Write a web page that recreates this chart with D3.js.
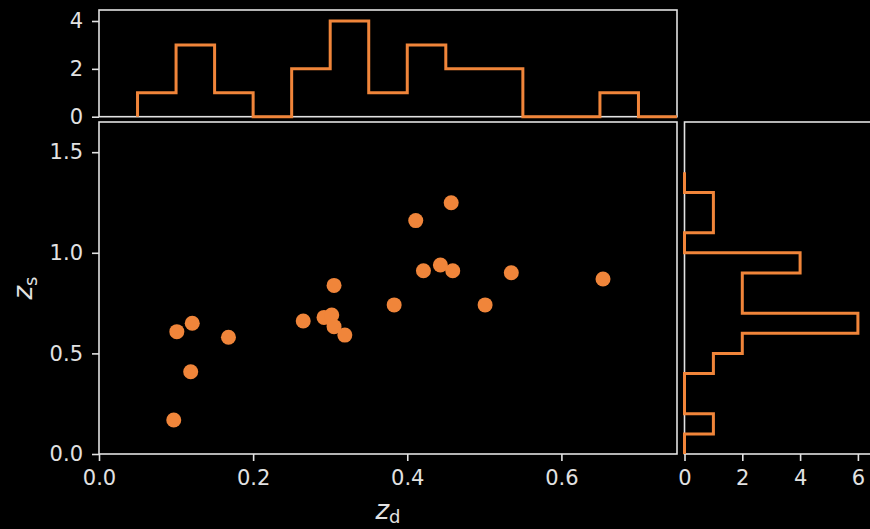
<!DOCTYPE html>
<html>
<head>
<meta charset="utf-8">
<script src="https://cdn.jsdelivr.net/npm/d3@7"></script>
<style>
  html, body { margin: 0; padding: 0; background: #000; }
  svg { display: block; }
</style>
</head>
<body>
<div id="chart"></div>
<script>
// scatter points (z_d, z_s)
const zd = [0.101, 0.121, 0.168, 0.119, 0.097, 0.265, 0.292, 0.302, 0.305, 0.319,
            0.457, 0.411, 0.443, 0.421, 0.459, 0.535, 0.654, 0.305, 0.383, 0.501]
const zs = [0.608, 0.650, 0.580, 0.409, 0.169, 0.661, 0.679, 0.691, 0.633, 0.591,
            1.249, 1.160, 0.939, 0.911, 0.911, 0.901, 0.870, 0.838, 0.741, 0.741]

// marginal histograms (step outlines)
const zdEdges = [0.05, 0.10, 0.15, 0.20, 0.25, 0.30, 0.35, 0.40, 0.45, 0.50, 0.55, 0.60, 0.65, 0.70, 0.75]
const zdCounts = [1, 3, 1, 0, 2, 4, 1, 3, 2, 2, 0, 0, 1, 0]
const zsEdges = [0.0, 0.1, 0.2, 0.3, 0.4, 0.5, 0.6, 0.7, 0.8, 0.9, 1.0, 1.1, 1.2, 1.3, 1.4]
const zsCounts = [0, 1, 0, 0, 1, 2, 6, 2, 2, 4, 0, 1, 1, 0]

const xTicks = [0, 0.2, 0.4, 0.6]
const yTicks = [0, 0.5, 1.0, 1.5]
const topCountTicks = [0, 2, 4]
const rightCountTicks = [0, 2, 4, 6]

const width = 870
const height = 529
const orange = '#f0853a'
const fg = '#e2e2e2'
const font = '"DejaVu Sans", sans-serif'

const svg = d3.select('#chart')
  .append('svg')
  .attr('width', width)
  .attr('height', height)
  .attr('viewBox', [0, 0, width, height].join(' '))
  .style('background', '#000')

// panels
const mainPanel = { left: 99, right: 677, top: 122, bottom: 454 }
const topPanel = { left: 99, right: 677, top: 10, bottom: 116.7 }
const sidePanel = { left: 684.5, right: 900, top: 122, bottom: 454 }

const x = d3.scaleLinear().domain([0, 0.75]).range([mainPanel.left, mainPanel.right])
const y = d3.scaleLinear().domain([0, 1.65]).range([mainPanel.bottom, mainPanel.top])
const yTop = d3.scaleLinear().domain([0, 4.46]).range([topPanel.bottom, topPanel.top])
const xSide = d3.scaleLinear().domain([0, 7.35]).range([sidePanel.left, sidePanel.left + 7.35 * 28.9])

const styleAxis = g => g
  .call(g => g.select('.domain').remove())
  .call(g => g.selectAll('.tick line').attr('stroke', fg).attr('stroke-width', 1.6))
  .call(g => g.selectAll('.tick text')
    .attr('fill', fg)
    .attr('font-family', font)
    .attr('font-size', 21))

// main axes
svg.append('g')
  .attr('transform', `translate(0,${mainPanel.bottom})`)
  .call(d3.axisBottom(x).tickValues(xTicks).tickFormat(d3.format('.1f')).tickSize(7).tickPadding(9))
  .call(styleAxis)

svg.append('g')
  .attr('transform', `translate(${mainPanel.left},0)`)
  .call(d3.axisLeft(y).tickValues(yTicks).tickFormat(d3.format('.1f')).tickSize(7).tickPadding(9))
  .call(styleAxis)

// top histogram axis
svg.append('g')
  .attr('transform', `translate(${topPanel.left},0)`)
  .call(d3.axisLeft(yTop).tickValues(topCountTicks).tickFormat(d3.format('d')).tickSize(7).tickPadding(9))
  .call(styleAxis)

// right histogram axis
svg.append('g')
  .attr('transform', `translate(0,${sidePanel.bottom})`)
  .call(d3.axisBottom(xSide).tickValues(rightCountTicks).tickFormat(d3.format('d')).tickSize(7).tickPadding(9))
  .call(styleAxis)

// frames
svg.selectAll('rect.frame')
  .data([mainPanel, topPanel, sidePanel])
  .join('rect')
  .attr('class', 'frame')
  .attr('x', d => d.left)
  .attr('y', d => d.top)
  .attr('width', d => d.right - d.left)
  .attr('height', d => d.bottom - d.top)
  .attr('fill', 'none')
  .attr('stroke', fg)
  .attr('stroke-width', 1.6)

// top histogram step outline
const topPoints = [{ e: zdEdges[0], c: 0 }]
  .concat(zdCounts.map((c, i) => ({ e: zdEdges[i], c })))
  .concat([{ e: zdEdges[zdEdges.length - 1], c: 0 }])

svg.append('path')
  .datum(topPoints)
  .attr('fill', 'none')
  .attr('stroke', orange)
  .attr('stroke-width', 3)
  .attr('stroke-linejoin', 'miter')
  .attr('d', d3.line().curve(d3.curveStepAfter).x(d => x(d.e)).y(d => yTop(d.c)))

// right histogram step outline (horizontal)
const sidePoints = [{ e: zsEdges[0], c: 0 }]
  .concat(zsCounts.map((c, i) => ({ e: zsEdges[i], c })))
  .concat([{ e: zsEdges[zsEdges.length - 1], c: 0 }])

svg.append('path')
  .datum(sidePoints)
  .attr('fill', 'none')
  .attr('stroke', orange)
  .attr('stroke-width', 3)
  .attr('stroke-linejoin', 'miter')
  .attr('d', d3.line().curve(d3.curveStepBefore).x(d => xSide(d.c)).y(d => y(d.e)))

// scatter
svg.append('g')
  .selectAll('circle')
  .data(zd.map((v, i) => [v, zs[i]]))
  .join('circle')
  .attr('cx', d => x(d[0]))
  .attr('cy', d => y(d[1]))
  .attr('r', 7.5)
  .attr('fill', orange)

// axis labels
const xLabel = svg.append('text')
  .attr('x', (mainPanel.left + mainPanel.right) / 2)
  .attr('y', 519)
  .attr('text-anchor', 'middle')
  .attr('fill', fg)
  .attr('font-family', font)
  .attr('font-size', 26)
xLabel.append('tspan').attr('font-style', 'italic').text('z')
xLabel.append('tspan').attr('font-size', 18).attr('dy', 4).text('d')

const yLabel = svg.append('text')
  .attr('transform', `translate(32,${(mainPanel.top + mainPanel.bottom) / 2}) rotate(-90)`)
  .attr('text-anchor', 'middle')
  .attr('fill', fg)
  .attr('font-family', font)
  .attr('font-size', 26)
yLabel.append('tspan').attr('font-style', 'italic').text('z')
yLabel.append('tspan').attr('font-size', 18).attr('dy', 5).text('s')
</script>
</body>
</html>
